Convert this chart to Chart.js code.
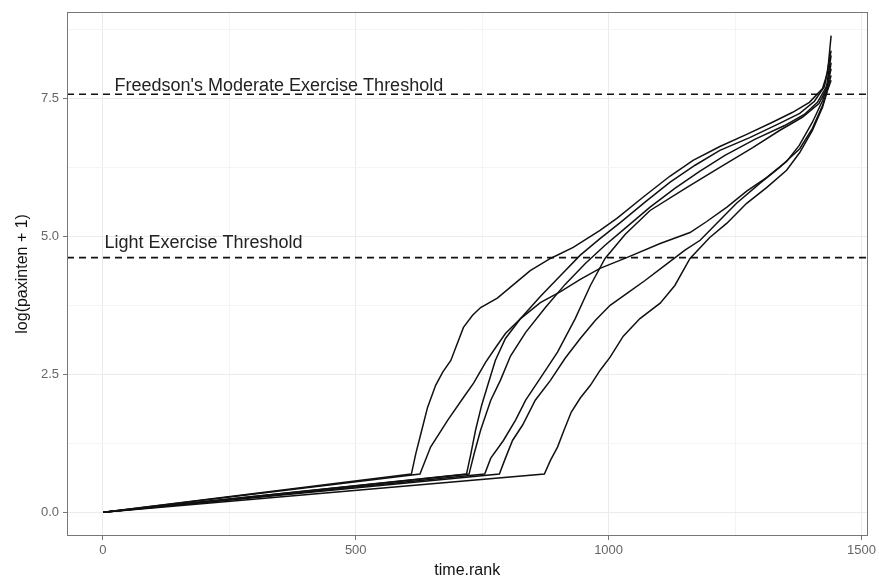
<!DOCTYPE html>
<html>
<head>
<meta charset="utf-8">
<script src="https://cdn.jsdelivr.net/npm/chart.js@4.4.1/dist/chart.umd.min.js"></script>
<style>
  html, body { margin: 0; padding: 0; background: #fff; }
</style>
</head>
<body>
<canvas id="chart" width="879" height="580"></canvas>
<script>
// sorted activity curves, one per subject (time.rank vs log(paxinten + 1))
const rankA = [1, 610, 619, 629, 642, 658, 672, 688, 713, 731, 747, 780, 806, 845, 885, 930, 983, 1017, 1068, 1121, 1167, 1220, 1273, 1324, 1364, 1397, 1423, 1433, 1440];
const valueA = [0, 0.69, 1.07, 1.43, 1.90, 2.30, 2.54, 2.75, 3.35, 3.57, 3.71, 3.88, 4.08, 4.38, 4.60, 4.80, 5.11, 5.33, 5.71, 6.09, 6.38, 6.63, 6.85, 7.07, 7.25, 7.43, 7.68, 7.97, 8.64];

const rankB = [1, 627, 648, 682, 713, 733, 757, 777, 796, 826, 865, 905, 944, 983, 1037, 1102, 1161, 1194, 1234, 1273, 1313, 1352, 1377, 1403, 1423, 1433, 1440];
const valueB = [0, 0.69, 1.18, 1.67, 2.08, 2.34, 2.72, 2.99, 3.24, 3.51, 3.80, 4.00, 4.22, 4.42, 4.62, 4.87, 5.07, 5.27, 5.53, 5.82, 6.07, 6.36, 6.65, 7.07, 7.46, 7.74, 8.15];

const rankC = [1, 719, 727, 737, 749, 761, 776, 796, 826, 865, 905, 944, 983, 1023, 1072, 1121, 1171, 1220, 1279, 1338, 1378, 1407, 1427, 1440];
const valueC = [0, 0.69, 1.03, 1.49, 1.94, 2.30, 2.75, 3.15, 3.51, 3.91, 4.29, 4.66, 4.96, 5.25, 5.62, 5.98, 6.29, 6.56, 6.79, 7.05, 7.23, 7.45, 7.72, 8.37];

const rankD = [1, 724, 735, 747, 767, 786, 806, 836, 875, 914, 954, 993, 1033, 1082, 1131, 1180, 1230, 1289, 1348, 1387, 1413, 1431, 1440];
const valueD = [0, 0.69, 1.09, 1.49, 2.03, 2.39, 2.83, 3.26, 3.71, 4.13, 4.51, 4.84, 5.15, 5.53, 5.87, 6.18, 6.47, 6.76, 7.01, 7.21, 7.43, 7.72, 8.28];

const rankE = [1, 755, 767, 792, 816, 836, 865, 899, 934, 964, 993, 1033, 1082, 1155, 1220, 1285, 1338, 1383, 1416, 1431, 1440];
const valueE = [0, 0.69, 0.98, 1.30, 1.67, 2.03, 2.43, 2.90, 3.51, 4.11, 4.60, 5.04, 5.47, 5.89, 6.25, 6.61, 6.92, 7.16, 7.41, 7.68, 8.04];

const rankF = [1, 784, 796, 810, 830, 855, 885, 914, 944, 974, 1003, 1037, 1072, 1112, 1151, 1181, 1214, 1253, 1299, 1338, 1378, 1403, 1423, 1433, 1440];
const valueF = [0, 0.69, 0.98, 1.30, 1.58, 2.03, 2.39, 2.79, 3.15, 3.48, 3.75, 3.97, 4.20, 4.48, 4.75, 4.93, 5.24, 5.60, 5.96, 6.25, 6.59, 6.96, 7.37, 7.68, 7.92];

const rankG = [1, 873, 885, 899, 912, 926, 944, 964, 983, 1003, 1029, 1062, 1102, 1131, 1161, 1200, 1234, 1273, 1313, 1352, 1378, 1403, 1423, 1433, 1440];
const valueG = [0, 0.69, 0.94, 1.18, 1.49, 1.81, 2.07, 2.30, 2.57, 2.81, 3.19, 3.51, 3.79, 4.11, 4.60, 4.98, 5.24, 5.60, 5.89, 6.20, 6.52, 6.92, 7.34, 7.65, 7.83];

// thresholds: log(1952 + 1) and log(100 + 1)
const moderateLog = 7.577;
const lightLog = 4.615;
const thresholdLabels = ["Freedson's Moderate Exercise Threshold", "Light Exercise Threshold"];
const labelRank = [348, 199];
const labelValue = [7.63, 4.79];

const xTicks = [0, 250, 500, 750, 1000, 1250, 1500];
const yTicks = [0, 1.25, 2.5, 3.75, 5, 6.25, 7.5, 8.75];
const xMin = -70.95, xMax = 1511.95;
const yMin = -0.432, yMax = 9.072;

const curves = [
  [rankA, valueA], [rankB, valueB], [rankC, valueC], [rankD, valueD],
  [rankE, valueE], [rankF, valueF], [rankG, valueG]
];

const FONT = '"Liberation Sans", Arial, sans-serif';

const datasets = curves.map(([r, v]) => ({
  data: r.map((x, i) => ({ x: x, y: v[i] })),
  borderColor: '#111',
  borderWidth: 1.5,
  pointRadius: 0,
  showLine: true,
  tension: 0
}));

[moderateLog, lightLog].forEach(t => {
  datasets.push({
    data: [{ x: xMin, y: t }, { x: xMax, y: t }],
    borderColor: '#111',
    borderWidth: 1.6,
    borderDash: [7, 5],
    pointRadius: 0,
    showLine: true
  });
});

const panelAndText = {
  id: 'panelAndText',
  afterDatasetsDraw(chart) {
    const { ctx, chartArea, scales } = chart;
    ctx.save();
    ctx.fillStyle = '#222';
    ctx.font = '18px ' + FONT;
    ctx.textAlign = 'center';
    ctx.textBaseline = 'alphabetic';
    thresholdLabels.forEach((t, i) => {
      ctx.fillText(t, scales.x.getPixelForValue(labelRank[i]), scales.y.getPixelForValue(labelValue[i]));
    });
    ctx.strokeStyle = '#777';
    ctx.lineWidth = 1;
    ctx.strokeRect(Math.round(chartArea.left) + 0.5, Math.round(chartArea.top) + 0.5,
      Math.round(chartArea.width) - 1, Math.round(chartArea.height) - 1);
    ctx.restore();
  }
};

new Chart(document.getElementById('chart').getContext('2d'), {
  type: 'scatter',
  data: { datasets: datasets },
  plugins: [panelAndText],
  options: {
    responsive: false,
    animation: false,
    layout: { padding: { top: 11, right: 11, left: 0, bottom: 0 } },
    plugins: { legend: { display: false }, tooltip: { enabled: false } },
    scales: {
      x: {
        type: 'linear',
        min: xMin,
        max: xMax,
        afterBuildTicks: s => { s.ticks = xTicks.map(v => ({ value: v })); },
        afterFit: s => { s.height = 44; },
        ticks: {
          autoSkip: false,
          maxRotation: 0,
          padding: 3,
          color: '#666',
          font: { family: FONT, size: 13 },
          callback: v => (v % 500 === 0 ? String(v) : '')
        },
        grid: {
          color: c => (c.tick && c.tick.value % 500 === 0 ? '#ebebeb' : '#f4f4f4'),
          lineWidth: 1,
          tickLength: 4,
          tickColor: c => (c.tick && c.tick.value % 500 === 0 ? '#777' : 'rgba(0,0,0,0)')
        },
        border: { display: false },
        title: {
          display: true,
          text: 'time.rank',
          color: '#111',
          font: { family: FONT, size: 16 },
          padding: { top: 0, bottom: 0 }
        }
      },
      y: {
        type: 'linear',
        min: yMin,
        max: yMax,
        afterBuildTicks: s => { s.ticks = yTicks.map(v => ({ value: v })); },
        afterFit: s => { s.width = 67; },
        ticks: {
          autoSkip: false,
          padding: 4,
          color: '#666',
          font: { family: FONT, size: 13 },
          callback: v => (v % 2.5 === 0 ? v.toFixed(1) : '')
        },
        grid: {
          color: c => (c.tick && c.tick.value % 2.5 === 0 ? '#ebebeb' : '#f4f4f4'),
          lineWidth: 1,
          tickLength: 4,
          tickColor: c => (c.tick && c.tick.value % 2.5 === 0 ? '#777' : 'rgba(0,0,0,0)')
        },
        border: { display: false },
        title: {
          display: true,
          text: 'log(paxinten + 1)',
          color: '#111',
          font: { family: FONT, size: 16 },
          padding: { top: 13, bottom: 0 }
        }
      }
    }
  }
});
</script>
</body>
</html>
